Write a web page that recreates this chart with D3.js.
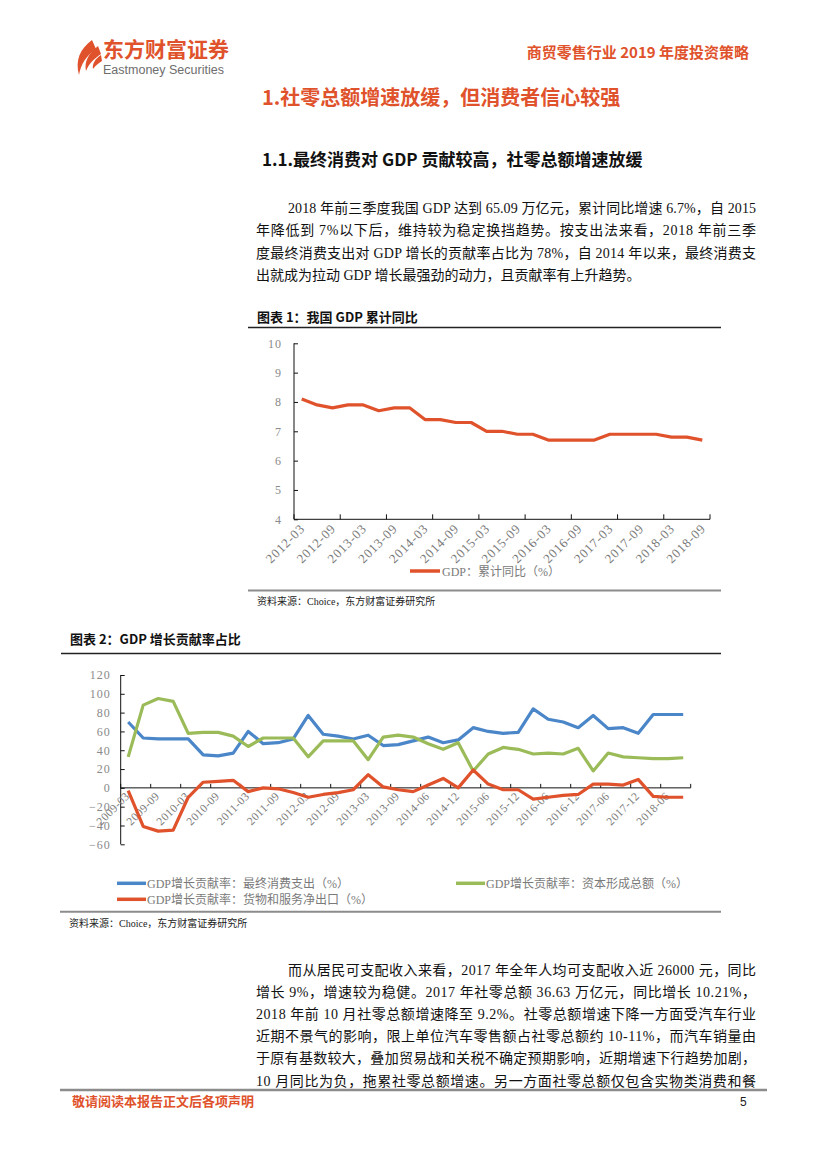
<!DOCTYPE html>
<html>
<head>
<meta charset="utf-8">
<script src="https://cdn.jsdelivr.net/npm/d3@7"></script>
<style>
body { margin: 0; background: #fff; }
</style>
</head>
<body>
<div id="page"></div>
<script>
// chart 1: GDP cumulative yoy
var gdpQuarters = ["2012-03","2012-06","2012-09","2012-12","2013-03","2013-06","2013-09","2013-12",
    "2014-03","2014-06","2014-09","2014-12","2015-03","2015-06","2015-09","2015-12",
    "2016-03","2016-06","2016-09","2016-12","2017-03","2017-06","2017-09","2017-12",
    "2018-03","2018-06","2018-09"];
var gdpYoY = [8.1,7.9,7.8,7.9,7.9,7.7,7.8,7.8,7.4,7.4,7.3,7.3,7.0,7.0,6.9,6.9,6.7,6.7,6.7,6.7,6.9,6.9,6.9,6.9,6.8,6.8,6.7];
var gdpYTicks = [4,5,6,7,8,9,10];

// chart 2: contribution to GDP growth
var contribQuarters = ["2009-03","2009-06","2009-09","2009-12","2010-03","2010-06","2010-09","2010-12",
    "2011-03","2011-06","2011-09","2011-12","2012-03","2012-06","2012-09","2012-12",
    "2013-03","2013-06","2013-09","2013-12","2014-06","2014-09","2014-12",
    "2015-03","2015-06","2015-09","2015-12","2016-03","2016-06","2016-09","2016-12",
    "2017-03","2017-06","2017-09","2017-12","2018-03","2018-06","2018-09"];
var consumption = [70,53,52,52,52,35,34,37,60,47,48,52,77,57,55,52,56,45,46,50,54,48,51,64,60,58,59,84,73,70,64,77,63,64,58,78,78,78];
var capital = [33,88,95,92,58,59,59,55,44,53,53,53,33,50,50,50,30,54,56,54,47,41,48,18,36,43,41,36,37,36,42,18,37,33,32,31,31,32];
var netExport = [-3,-41,-46,-45,-10,6,7,8,-4,0,-1,-5,-10,-7,-5,-2,14,1,-2,-4,3,10,0,19,4,-2,-2,-12,-10,-8,-7,4,4,3,9,-9,-10,-10];
var contribYTicks = [-60,-40,-20,0,20,40,60,80,100,120];
var contribNames = ["GDP增长贡献率：最终消费支出（%）", "GDP增长贡献率：资本形成总额（%）", "GDP增长贡献率：货物和服务净出口（%）"];

var RED = "#e0522b", BLUE = "#4a86c8", GREEN = "#9bbb59";
var SERIF = "'Liberation Serif','Noto Sans CJK SC',serif";
var CJK = "'Noto Sans CJK SC',sans-serif";

var svg = d3.select("#page").append("svg")
    .attr("width", 827).attr("height", 1169)
    .style("background", "#fff");

function txt(x, y, s, size, opt) {
    opt = opt || {};
    var t = svg.append("text")
        .attr("x", x).attr("y", y)
        .style("font-size", size + "px")
        .style("font-family", opt.family || SERIF)
        .style("fill", opt.fill || "#111")
        .style("font-weight", opt.bold ? "bold" : "normal")
        .attr("text-anchor", opt.anchor || "start")
        .text(s);
    if (opt.width) t.attr("textLength", opt.width).attr("lengthAdjust", "spacing");
    return t;
}

// ---- header
var logo = svg.append("g").attr("fill", RED);
logo.append("path").attr("d", "M92,40 C80,49 75,60 79,75 C81,64 86,56 96,49 Z");
logo.append("path").attr("d", "M98,46 C88,54 84,62 86,71 C89,63 94,59 101,54 Z");
logo.append("path").attr("d", "M101,55 C95,59 92,64 93,69 C96,65 99,63 102,61 Z");
txt(103, 57, "东方财富证券", 21, {family: CJK, bold: true, fill: RED});
txt(103, 74, "Eastmoney Securities", 12.5, {family: "'Liberation Sans',Arial,sans-serif", fill: "#6d6d6d"});
txt(749, 58, "商贸零售行业 2019 年度投资策略", 15, {family: CJK, bold: true, fill: RED, anchor: "end"});

// ---- headings
txt(262, 105, "1.社零总额增速放缓，但消费者信心较强", 20, {family: CJK, bold: true, fill: RED});
txt(262, 166, "1.1.最终消费对 GDP 贡献较高，社零总额增速放缓", 17, {family: CJK, bold: true, fill: "#111"});

// ---- paragraph 1
var para1 = [
    "2018 年前三季度我国 GDP 达到 65.09 万亿元，累计同比增速 6.7%，自 2015",
    "年降低到 7%以下后，维持较为稳定换挡趋势。按支出法来看，2018 年前三季",
    "度最终消费支出对 GDP 增长的贡献率占比为 78%，自 2014 年以来，最终消费支",
    "出就成为拉动 GDP 增长最强劲的动力，且贡献率有上升趋势。"
];
para1.forEach(function (s, i) {
    var x0 = i === 0 ? 288 : 256;
    txt(x0, 213 + i * 22.4, s, 14, {width: i < para1.length - 1 ? 756 - x0 : null});
});

// ---- figure 1
txt(257, 322, "图表 1：我国 GDP 累计同比", 13, {family: CJK, bold: true});
svg.append("line").attr("x1", 248).attr("x2", 721).attr("y1", 327.5).attr("y2", 327.5)
    .attr("stroke", "#222").attr("stroke-width", 1.3);

var x1 = d3.scaleBand().domain(gdpQuarters).range([294, 710]);
var y1 = d3.scaleLinear().domain([4, 10]).range([519.3, 343.3]);
var c1 = svg.append("g");

c1.append("g")
    .attr("transform", "translate(294,0)")
    .call(d3.axisLeft(y1).tickValues(gdpYTicks).tickFormat(d3.format("d")).tickSize(-4).tickPadding(12))
    .call(function (g) {
        g.selectAll("text").style("font-size", "12px").style("font-family", SERIF)
            .style("fill", "#8a8a8a").style("letter-spacing", "1px");
        g.selectAll("line,path").attr("stroke", "#111");
        g.select(".domain").attr("d", "M0," + y1(10) + "V" + y1(4));
    });

c1.append("line").attr("x1", 294).attr("x2", 710).attr("y1", y1(4)).attr("y2", y1(4)).attr("stroke", "#111");
d3.range(0, gdpQuarters.length + 1, 3).forEach(function (k) {
    var xx = 294 + k * x1.step();
    c1.append("line").attr("x1", xx).attr("x2", xx).attr("y1", y1(4)).attr("y2", y1(4) - 5).attr("stroke", "#111");
});
gdpQuarters.forEach(function (q, i) {
    if (i % 2) return;
    var cx = x1(q) + x1.bandwidth() / 2 + 4;
    c1.append("text")
        .attr("transform", "translate(" + cx + "," + (y1(4) + 10) + ") rotate(-45)")
        .attr("text-anchor", "end")
        .style("font-size", "13px").style("font-family", SERIF).style("fill", "#7a7a7a")
        .style("letter-spacing", "0.8px")
        .text(q);
});

var line1 = d3.line()
    .x(function (d, i) { return x1(gdpQuarters[i]) + x1.bandwidth() / 2; })
    .y(function (d) { return y1(d); });
c1.append("path").datum(gdpYoY).attr("d", line1)
    .attr("fill", "none").attr("stroke", RED).attr("stroke-width", 3.2).attr("stroke-linejoin", "round");

c1.append("line").attr("x1", 410).attr("x2", 440).attr("y1", 571).attr("y2", 571)
    .attr("stroke", RED).attr("stroke-width", 3.5);
txt(442, 575.5, "GDP：累计同比（%）", 12, {fill: "#7a7a7a"});

svg.append("line").attr("x1", 248).attr("x2", 721).attr("y1", 590.5).attr("y2", 590.5)
    .attr("stroke", "#8c8c8c").attr("stroke-width", 2);
txt(257, 605, "资料来源：Choice，东方财富证券研究所", 10, {fill: "#222"});

// ---- figure 2
txt(70, 644, "图表 2：GDP 增长贡献率占比", 13, {family: CJK, bold: true});
svg.append("line").attr("x1", 61).attr("x2", 721).attr("y1", 653.5).attr("y2", 653.5)
    .attr("stroke", "#222").attr("stroke-width", 1.3);

var x2 = d3.scaleBand().domain(contribQuarters).range([120.7, 690.7]);
var y2 = d3.scaleLinear().domain([-60, 120]).range([844.3, 675]);
var c2 = svg.append("g");

c2.append("g")
    .attr("transform", "translate(120.7,0)")
    .call(d3.axisLeft(y2).tickValues(contribYTicks).tickSize(-4).tickPadding(10))
    .call(function (g) {
        g.selectAll("text").style("font-size", "12px").style("font-family", SERIF)
            .style("fill", "#8a8a8a").style("letter-spacing", "1px");
        g.selectAll("line,path").attr("stroke", "#111");
        g.select(".domain").attr("d", "M0," + y2(120) + "V" + y2(-60));
    });

c2.append("line").attr("x1", 120.7).attr("x2", 690.7).attr("y1", y2(0)).attr("y2", y2(0)).attr("stroke", "#111");
d3.range(0, contribQuarters.length + 1, 2).forEach(function (k) {
    var xx = 120.7 + k * x2.step();
    c2.append("line").attr("x1", xx).attr("x2", xx).attr("y1", y2(0)).attr("y2", y2(0) - 4).attr("stroke", "#111");
});
contribQuarters.forEach(function (q, i) {
    if (i % 2) return;
    var cx = x2(q) + x2.bandwidth() / 2 + 2;
    c2.append("text")
        .attr("transform", "translate(" + cx + "," + (y2(0) + 9) + ") rotate(-45)")
        .attr("text-anchor", "end")
        .style("font-size", "11.5px").style("font-family", SERIF).style("fill", "#7a7a7a")
        .style("letter-spacing", "0.4px")
        .text(q);
});

var line2 = d3.line()
    .x(function (d, i) { return x2(contribQuarters[i]) + x2.bandwidth() / 2; })
    .y(function (d) { return y2(d); });
[[consumption, BLUE], [capital, GREEN], [netExport, RED]].forEach(function (s) {
    c2.append("path").datum(s[0]).attr("d", line2)
        .attr("fill", "none").attr("stroke", s[1]).attr("stroke-width", 3.2).attr("stroke-linejoin", "round");
});

// legend
var legendPos = [[117, 883.3], [456, 883.3], [117, 899.3]];
[BLUE, GREEN, RED].forEach(function (c, i) {
    var p = legendPos[i];
    svg.append("line").attr("x1", p[0]).attr("x2", p[0] + 29).attr("y1", p[1]).attr("y2", p[1])
        .attr("stroke", c).attr("stroke-width", 3.5);
    txt(p[0] + 30, p[1] + 4.5, contribNames[i], 12, {fill: "#7a7a7a"});
});

svg.append("line").attr("x1", 60).attr("x2", 721).attr("y1", 911.7).attr("y2", 911.7)
    .attr("stroke", "#8c8c8c").attr("stroke-width", 2);
txt(69, 927, "资料来源：Choice，东方财富证券研究所", 10, {fill: "#222"});

// ---- paragraph 2
var para2 = [
    "而从居民可支配收入来看，2017 年全年人均可支配收入近 26000 元，同比",
    "增长 9%，增速较为稳健。2017 年社零总额 36.63 万亿元，同比增长 10.21%，",
    "2018 年前 10 月社零总额增速降至 9.2%。社零总额增速下降一方面受汽车行业",
    "近期不景气的影响，限上单位汽车零售额占社零总额约 10-11%，而汽车销量由",
    "于原有基数较大，叠加贸易战和关税不确定预期影响，近期增速下行趋势加剧，",
    "10 月同比为负，拖累社零总额增速。另一方面社零总额仅包含实物类消费和餐"
];
para2.forEach(function (s, i) {
    var x0 = i === 0 ? 288 : 256;
    txt(x0, 975 + i * 22.1, s, 14, {width: 756 - x0});
});

// ---- footer
svg.append("line").attr("x1", 60).attr("x2", 767).attr("y1", 1090).attr("y2", 1090)
    .attr("stroke", "#8c8c8c").attr("stroke-width", 2.5);
txt(72, 1106, "敬请阅读本报告正文后各项声明", 13, {family: CJK, bold: true, fill: RED});
txt(740, 1106, "5", 12, {family: "'Liberation Sans',sans-serif", fill: "#222"});
</script>
</body>
</html>
